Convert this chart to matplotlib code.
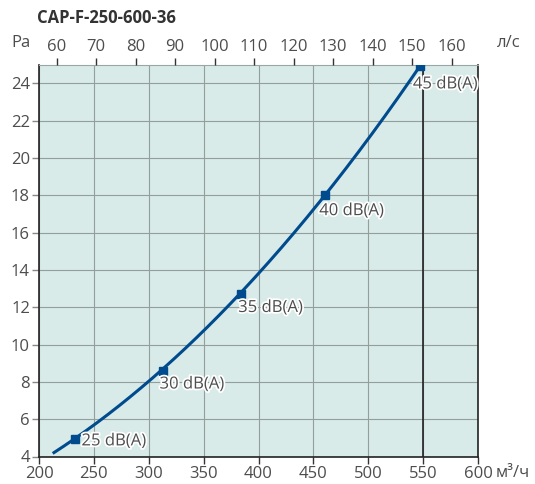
import numpy as np
import matplotlib
matplotlib.use("Agg")
import matplotlib.pyplot as plt
import matplotlib.patheffects as pe

plt.rcParams['font.family'] = ['Open Sans', 'DejaVu Sans']

title = "CAP-F-250-600-36"
# curve points (m3/h, Pa)
curve_q = [212.5, 233, 252, 313, 352, 384, 421, 461, 486, 547]
curve_p = [4.1, 4.92, 6.0, 8.6, 10.78, 12.7, 15.4, 18.0, 19.9, 24.9]
# noise level markers
mark_q = [233, 313, 384, 461, 547]
mark_p = [4.92, 8.6, 12.7, 18.0, 24.9]
mark_labels = ["25 dB(A)", "30 dB(A)", "35 dB(A)", "40 dB(A)", "45 dB(A)"]
x_ticks = [200, 250, 300, 350, 400, 450, 500, 550, 600]
y_ticks = [4, 6, 8, 10, 12, 14, 16, 18, 20, 22, 24]
ls_ticks = [60, 70, 80, 90, 100, 110, 120, 130, 140, 150, 160]
work_q = 550

txt = '#4d4d4d'
fs = 12
fig = plt.figure(figsize=(5.35, 4.84), dpi=100)
ax = fig.add_axes([39/535, 1-456.5/484, (478-39)/535, (456.5-64.5)/484])
ax.set_facecolor('#d8ebe9')
ax.set_xlim(200, 600)
ax.set_ylim(4, 25)
ax.set_xticks(x_ticks)
ax.set_yticks(y_ticks)
ax.grid(True, color='#939e9d', linewidth=0.8)
ax.set_axisbelow(True)
ax.tick_params(axis='both', direction='out', length=5, width=1, colors='#333333',
               labelcolor=txt, labelsize=fs, pad=2)
ax.tick_params(axis='y', colors='#888888', labelcolor=txt, pad=1.5)
for s in ['left', 'bottom', 'right']:
    ax.spines[s].set_color('#222222')
    ax.spines[s].set_linewidth(1.2)
ax.spines['top'].set_color('#9aa5a4')
ax.spines['top'].set_linewidth(0.8)

# smooth curve through read points
c = np.polyfit(curve_q, curve_p, 2)
qq = np.linspace(curve_q[0], curve_q[-1], 200)
ax.plot(qq, np.polyval(c, qq), color='#004b8d', linewidth=2.2, solid_capstyle='butt', zorder=3)
ax.plot(mark_q, mark_p, 's', color='#004b8d', markersize=5.5, zorder=4)
ax.axvline(work_q, color='#222222', linewidth=1.2, zorder=2)

offsets = [(4.5, -1.5), (-2.5, -10), (-2, -10), (-4.5, -11.5), (-5, -13)]
for q, p, lab, off in zip(mark_q, mark_p, mark_labels, offsets):
    ax.annotate(lab, (q, p), xytext=off, textcoords='offset points',
                ha='left', va='center', fontsize=fs, color=txt, zorder=5,
                path_effects=[pe.withStroke(linewidth=2.5, foreground='white')])

ax2 = ax.twiny()
ax2.set_xlim(200/3.6, 600/3.6)
ax2.set_xticks(ls_ticks)
ax2.tick_params(axis='x', direction='out', length=5, width=1, colors='#333333',
                labelcolor=txt, labelsize=fs, pad=2)
for s in ax2.spines.values():
    s.set_visible(False)

fig.text(37/535, 1-18/484, title, fontsize=12, fontweight='bold', color='#333333',
         ha='left', va='center')
fig.text(11/535, 1-43/484, "Pa", fontsize=fs, color=txt, ha='left', va='center')
fig.text(497/535, 1-43/484, "л/с", fontsize=fs, color=txt, ha='left', va='center')
fig.text(496/535, 1-473/484, "м³/ч", fontsize=fs, color=txt, ha='left', va='center')

fig.savefig('out.png', dpi=100)
